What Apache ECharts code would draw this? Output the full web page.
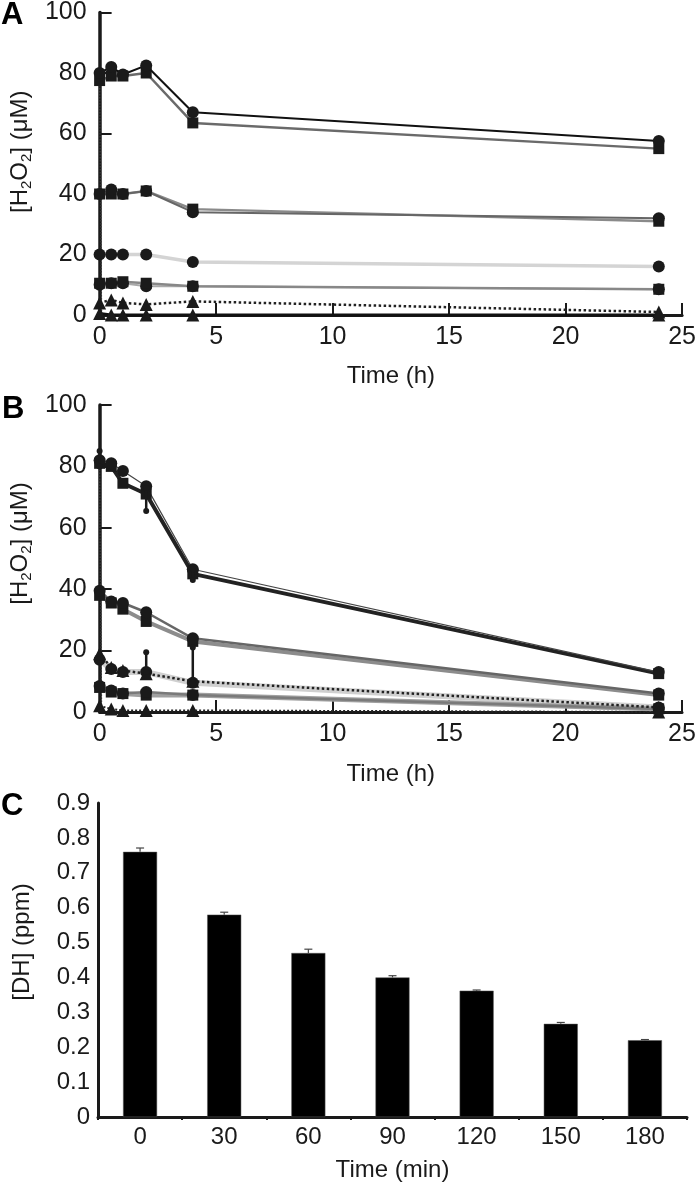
<!DOCTYPE html>
<html><head><meta charset="utf-8">
<script src="https://cdn.jsdelivr.net/npm/echarts@6/dist/echarts.min.js"></script>
<style>html,body{margin:0;padding:0;background:#fff}#c{width:699px;height:1187px}</style>
</head><body><div id="c"></div>
<script>
// ---------- Panel A data (time in h, H2O2 in µM) ----------
const timesA = [0, 0.5, 1, 2, 4, 24];
const a80Circle = [80, 82, 79.5, 82.5, 67, 57.5];
const a80Square = [77.5, 79, 79, 80, 63.5, 55];
const a40Circle = [40, 41.5, 40, 41, 34, 32];
const a40Square = [40, 40, 40, 41, 35, 31];
const a20Circle = [20, 20, 20, 20, 17.5, 16];
const a10Square = [10.5, 10.5, 11, 10.5, 9.5, 8.5];
const a10Circle = [10, 10.5, 10.5, 9.5, 9.5, 8.5];
const a5Triangle = [4, 5, 4, 3.5, 4.5, 1];
const a0Triangle = [0.5, 0, 0, 0, 0, 0];
const dropTimes = [0, 0.08];
const aDrop = [80, 0];

// ---------- Panel B data ----------
const timesB = [0, 0.5, 1, 2, 4, 24];
const b80Circle = [82, 81, 78.5, 73.5, 46.5, 13];
const b80Square = [81, 80, 74.5, 71, 45, 12.5];
const b40Circle = [39.5, 36, 35.5, 32.5, 24, 6];
const b40Square = [38, 35.5, 33.5, 29.5, 23, 5.5];
const b20Triangle = [19, 14.5, 13.5, 12.5, 10, 1.5];
const b20Circle = [17, 14, 13, 13, 9.5, 1.5];
const b5Square = [8, 6.5, 6, 5.5, 5.5, 1];
const b5Circle = [8.5, 7, 6, 6.5, 5.5, 1];
const b0Triangle = [2, 1, 0.5, 0.5, 0.5, 0];
const bDrop = [80, 0];
// error bars: [time, low, high]
const errB = [[0, 80, 85], [2, 65.5, 73], [4, 43, 46.5], [2, 13, 19.5], [4, 9.5, 21]];

// ---------- Panel C data ----------
const catsC = ['0', '30', '60', '90', '120', '150', '180'];
const dh = [0.76, 0.58, 0.47, 0.40, 0.362, 0.267, 0.22];
const dhErr = [0.011, 0.007, 0.011, 0.005, 0.002, 0.004, 0.002];

const TICKF = '"Liberation Sans Narrow", "Liberation Sans", Arial, sans-serif';
const NAMEF = '"Liberation Sans", Arial, sans-serif';
const INK = '#1a1a1a';

function pairs(t, v) { return t.map((x, i) => [x, v[i]]); }
function line(idx, t, v, sym, color, width, type, z) {
  return {
    type: 'line', xAxisIndex: idx, yAxisIndex: idx, data: pairs(t, v),
    symbol: sym, symbolSize: sym === 'triangle' ? 13 : (sym === 'rect' ? 11 : 12),
    itemStyle: { color: INK }, clip: false, silent: true, animation: false,
    lineStyle: { color: color, width: width, type: type || 'solid' }, z: z || 2
  };
}
function errSeries(idx, data) {
  return {
    type: 'custom', xAxisIndex: idx, yAxisIndex: idx, data: data, clip: false, z: 5,
    renderItem: function (params, api) {
      const lo = api.coord([api.value(0), api.value(1)]);
      const hi = api.coord([api.value(0), api.value(2)]);
      return { type: 'group', children: [
        { type: 'line', shape: { x1: lo[0], y1: lo[1], x2: hi[0], y2: hi[1] }, style: { stroke: INK, lineWidth: 2.5 } },
        { type: 'circle', shape: { cx: hi[0], cy: hi[1], r: 3 }, style: { fill: INK } },
        { type: 'circle', shape: { cx: lo[0], cy: lo[1], r: 3 }, style: { fill: INK } }
      ] };
    }
  };
}
const h2o2 = '{n|[H}{s|2}{n|O}{s|2}{n|] (μM)}';
const nameRich = {
  n: { fontSize: 24, lineHeight: 28, fontFamily: NAMEF, color: INK },
  s: { fontSize: 15, lineHeight: 15, fontFamily: NAMEF, color: INK, verticalAlign: 'bottom' }
};

function timeX(idx, gap) {
  return {
    gridIndex: idx, type: 'value', min: 0, max: 25, interval: 5,
    axisLine: { show: true, lineStyle: { color: INK, width: 3 } },
    axisTick: { show: true, inside: true, length: 12, lineStyle: { color: INK, width: 2 } },
    axisLabel: { fontSize: 25, fontFamily: TICKF, color: INK, margin: 10 },
    splitLine: { show: false },
    name: 'Time (h)', nameLocation: 'middle', nameGap: gap,
    nameTextStyle: { fontSize: 24, fontFamily: NAMEF, color: INK }
  };
}
function concY(idx, gap, pad) {
  return {
    gridIndex: idx, type: 'value', min: 0, max: 100, interval: 20,
    axisLine: { show: true, lineStyle: { color: INK, width: 3.5 } },
    axisTick: { show: true, inside: true, length: 12, lineStyle: { color: INK, width: 2 } },
    axisLabel: { fontSize: 25, fontFamily: TICKF, color: INK, margin: 13 },
    splitLine: { show: false },
    name: h2o2, nameLocation: 'middle', nameRotate: 90, nameGap: gap,
    nameTextStyle: { padding: [0, 0, 0, pad], rich: nameRich }
  };
}

const series = [
  // Panel A
  line(0, timesA, a20Circle, 'circle', '#d4d4d4', 3.5),
  line(0, timesA, a10Circle, 'circle', '#aaaaaa', 2),
  line(0, timesA, a10Square, 'rect', '#888888', 2.5),
  line(0, timesA, a40Square, 'rect', '#8a8a8a', 2.5),
  line(0, timesA, a40Circle, 'circle', '#666666', 2),
  line(0, timesA, a80Square, 'rect', '#6a6a6a', 2.5),
  line(0, timesA, a80Circle, 'circle', '#111111', 2, 'solid', 3),
  line(0, timesA, a5Triangle, 'triangle', '#222222', 2.5, 'dotted'),
  line(0, timesA, a0Triangle, 'triangle', '#111111', 3),
  line(0, dropTimes, aDrop, 'none', '#333333', 1.5, 'dotted'),
  // Panel B
  line(1, timesB, b20Circle, 'circle', '#d0d0d0', 6),
  line(1, timesB, b5Square, 'rect', '#a0a0a0', 5),
  line(1, timesB, b5Circle, 'circle', '#7a7a7a', 2.5),
  line(1, timesB, b40Square, 'rect', '#8c8c8c', 4),
  line(1, timesB, b40Circle, 'circle', '#666666', 2.5),
  line(1, timesB, b80Square, 'rect', '#222222', 4),
  line(1, timesB, b80Circle, 'circle', '#444444', 1.2),
  line(1, timesB, b20Triangle, 'triangle', '#222222', 2.5, 'dotted'),
  line(1, timesB, b0Triangle, 'triangle', '#222222', 2, 'dotted'),
  line(1, dropTimes, bDrop, 'none', '#333333', 1.5, 'dotted'),
  errSeries(1, errB),
  // Panel C
  {
    type: 'bar', xAxisIndex: 2, yAxisIndex: 2, data: dh, barWidth: 34,
    itemStyle: { color: '#000000', borderColor: '#555', borderWidth: 0.5 }, silent: true, animation: false
  },
  {
    type: 'custom', xAxisIndex: 2, yAxisIndex: 2, z: 5,
    data: dh.map((v, i) => [i, v, v + dhErr[i]]),
    renderItem: function (params, api) {
      const lo = api.coord([api.value(0), api.value(1)]);
      const hi = api.coord([api.value(0), api.value(2)]);
      return { type: 'group', children: [
        { type: 'line', shape: { x1: lo[0], y1: lo[1], x2: hi[0], y2: hi[1] }, style: { stroke: '#444', lineWidth: 1.2 } },
        { type: 'line', shape: { x1: hi[0] - 4, y1: hi[1], x2: hi[0] + 4, y2: hi[1] }, style: { stroke: '#444', lineWidth: 1.2 } }
      ] };
    }
  }
];

const chart = echarts.init(document.getElementById('c'), null, { renderer: 'canvas' });
chart.setOption({
  animation: false,
  backgroundColor: '#ffffff',
  grid: [
    { left: 97, right: 12, top: 10, height: 305 },
    { left: 92, right: 17, top: 405, height: 307 },
    { left: 92, right: 12, top: 803, height: 314 }
  ],
  xAxis: [
    timeX(0, 49),
    timeX(1, 50),
    {
      gridIndex: 2, type: 'category', data: catsC, boundaryGap: true,
      axisLine: { show: true, lineStyle: { color: INK, width: 3 } },
      axisTick: { show: true, length: 3, lineStyle: { color: INK, width: 2 } },
      axisLabel: { fontSize: 24, fontFamily: TICKF, color: INK, margin: 8 },
      name: 'Time (min)', nameLocation: 'middle', nameGap: 41,
      nameTextStyle: { fontSize: 24, fontFamily: NAMEF, color: INK }
    }
  ],
  yAxis: [
    concY(0, 61, 24),
    concY(1, 56, 30),
    {
      gridIndex: 2, type: 'value', min: 0, max: 0.9, interval: 0.1,
      axisLine: { show: true, lineStyle: { color: INK, width: 3 } },
      axisTick: { show: false },
      axisLabel: { fontSize: 24, fontFamily: TICKF, color: INK, margin: 8,
        formatter: v => (Math.round(v * 10) / 10).toString() },
      splitLine: { show: false },
      name: '[DH] (ppm)', nameLocation: 'middle', nameRotate: 90, nameGap: 62,
      nameTextStyle: { fontSize: 24, lineHeight: 28, fontFamily: NAMEF, color: INK, padding: [0, 0, 0, 36] }
    }
  ],
  graphic: [
    { type: 'text', left: 1, top: 0, style: { text: 'A', font: 'bold 31px "Liberation Sans", Arial, sans-serif', fill: '#000' } },
    { type: 'text', left: 2, top: 394, style: { text: 'B', font: 'bold 31px "Liberation Sans", Arial, sans-serif', fill: '#000' } },
    { type: 'text', left: 1, top: 791, style: { text: 'C', font: 'bold 31px "Liberation Sans", Arial, sans-serif', fill: '#000' } }
  ],
  series: series
});
</script>
</body></html>
